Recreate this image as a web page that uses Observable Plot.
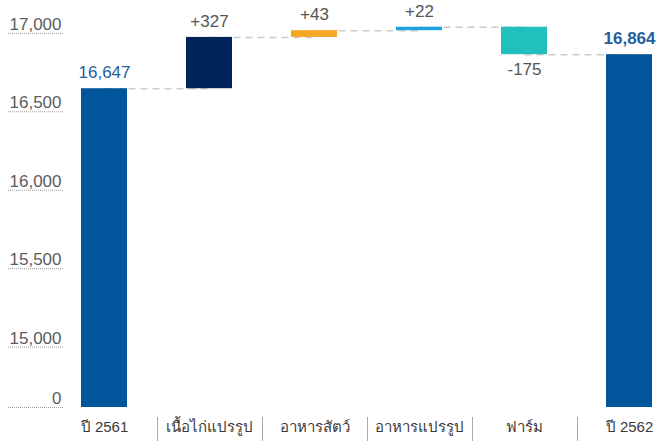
<!DOCTYPE html>
<html>
<head>
<meta charset="utf-8">
<script src="https://cdn.jsdelivr.net/npm/d3@7"></script>
<script src="https://cdn.jsdelivr.net/npm/@observablehq/plot@0.6"></script>
<style>
  html, body { margin: 0; padding: 0; background: #fff; }
  #chart svg { display: block; }
</style>
</head>
<body>
<div id="chart"></div>
<script>
// ---- data ----
const categories = ["ปี 2561", "เนื้อไก่แปรรูป", "อาหารสัตว์", "อาหารแปรรูป", "ฟาร์ม", "ปี 2562"];
const values = [16647, 327, 43, 22, -175, 16864];
const isTotal = [true, false, false, false, false, true];
const yTickValues = [15000, 15500, 16000, 16500, 17000];
const axisBreakValue = 14615; // visual bottom of the broken axis, labelled "0"
const palette = ["#00559b", "#00245a", "#f5a623", "#1fa1db", "#22c0bd", "#00559b"];

// ---- derived table ----
let running = 0;
const rows = categories.map((c, i) => {
  let y1, y2;
  if (isTotal[i]) { y1 = axisBreakValue; y2 = values[i]; running = values[i]; }
  else { y1 = running; y2 = running + values[i]; running = y2; }
  return {cat: c, y1, y2, value: values[i], total: isTotal[i], end: running,
          top: Math.max(y1, y2), bottom: Math.min(y1, y2)};
});
const connectors = rows.slice(0, -1).map((r, i) => ({from: r.cat, to: rows[i + 1].cat, level: r.end}));
const fmt = d3.format(",");
const labelText = r => r.total ? fmt(r.value) : (r.value > 0 ? "+" : "-") + fmt(Math.abs(r.value));
const ticksAll = [axisBreakValue, ...yTickValues];

const chart = Plot.plot({
  width: 657,
  height: 445,
  marginTop: 25,
  marginBottom: 38,
  marginLeft: 63,
  marginRight: 4,
  style: {fontFamily: "'Liberation Sans', Arial, 'Noto Sans', 'DejaVu Sans', sans-serif", background: "#fff"},
  x: {type: "band", domain: categories, range: [79, 653], paddingInner: 0.564, paddingOuter: 0, align: 0.5},
  y: {domain: [axisBreakValue, 17050]},
  color: {domain: categories, range: palette},
  marks: [
    Plot.link(connectors, {x1: "from", x2: "to", y1: "level", y2: "level",
      stroke: "#cccccc", strokeWidth: 1.5, strokeDasharray: "7,5"}),
    Plot.barY(rows, {x: "cat", y1: "y1", y2: "y2", fill: "cat"}),
    // y axis dotted underlines
    Plot.axisY({ticks: ticksAll, tickSize: 55, text: null, stroke: "#9a9a9a", strokeDasharray: "1,1"}),
    // y axis labels
    Plot.axisY({ticks: ticksAll, tickSize: 0, tickPadding: 2, dy: -9, fontSize: 17, color: "#5c5c5c",
      tickFormat: d => d === axisBreakValue ? "0" : fmt(d)}),
    // category labels
    Plot.axisX({tickSize: 0, tickPadding: 14, fontSize: 15, color: "#3a3a3a"}),
    // separators between categories
    Plot.axisX({ticks: categories.slice(0, -1), text: null, tickSize: 24, dx: 53, dy: 10, stroke: "#a8a8a8"}),
    // value labels
    Plot.text(rows.filter(r => r.total && r.cat === categories[0]), {x: "cat", y: "top", text: labelText, dy: -16,
      fontSize: 17, fill: "#1f5f9f"}),
    Plot.text(rows.filter(r => r.total && r.cat !== categories[0]), {x: "cat", y: "top", text: labelText, dy: -16,
      fontSize: 17, fontWeight: "bold", fill: "#1f5f9f"}),
    Plot.text(rows.filter(r => !r.total && r.value > 0), {x: "cat", y: "top", text: labelText, dy: -16,
      fontSize: 17, fill: "#555555"}),
    Plot.text(rows.filter(r => !r.total && r.value < 0), {x: "cat", y: "bottom", text: labelText, dy: 15,
      fontSize: 17, fill: "#555555"})
  ]
});
document.getElementById("chart").appendChild(chart);
</script>
</body>
</html>
